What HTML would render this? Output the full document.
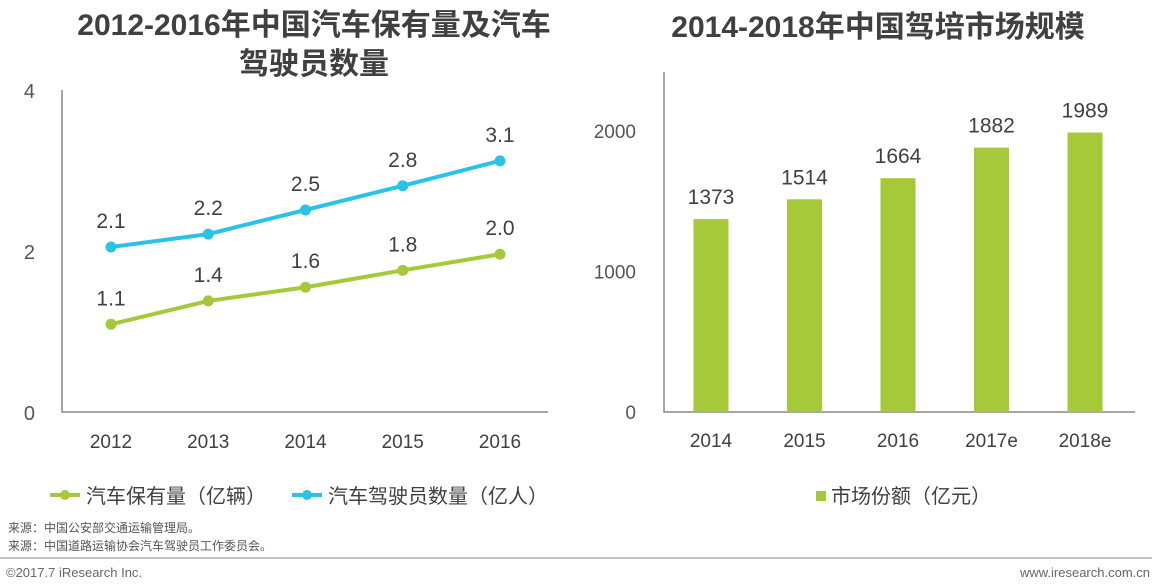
<!DOCTYPE html>
<html><head><meta charset="utf-8"><style>
body{margin:0;background:#fff;}
svg{display:block;font-family:"Liberation Sans","Noto Sans CJK SC",sans-serif;}
</style></head><body>
<svg width="1161" height="588" viewBox="0 0 1161 588" id="chart">
<text x="314" y="35" text-anchor="middle" font-size="30" font-weight="bold" fill="#404040">2012-2016年中国汽车保有量及汽车</text>
<text x="314" y="74" text-anchor="middle" font-size="30" font-weight="bold" fill="#404040">驾驶员数量</text>
<text x="878" y="37" text-anchor="middle" font-size="30" font-weight="bold" fill="#404040">2014-2018年中国驾培市场规模</text>
<g id="left"></g>
<g id="right"></g>
<g>
<line x1="50" y1="495" x2="80" y2="495" stroke="#a6c93a" stroke-width="4"/><circle cx="65" cy="495" r="5" fill="#a6c93a"/>
<text x="86" y="503" font-size="20" fill="#404040">汽车保有量（亿辆）</text>
<line x1="292" y1="495" x2="322" y2="495" stroke="#29c3ea" stroke-width="4"/><circle cx="307" cy="495" r="5" fill="#29c3ea"/>
<text x="328" y="503" font-size="20" fill="#404040">汽车驾驶员数量（亿人）</text>
</g>
<g>
<rect x="816" y="491" width="10" height="10" fill="#a6c93a"/>
<text x="831" y="503" font-size="20" fill="#404040">市场份额（亿元）</text>
</g>
<text x="8" y="532" font-size="12" fill="#555">来源：中国公安部交通运输管理局。</text>
<text x="8" y="550" font-size="12" fill="#555">来源：中国道路运输协会汽车驾驶员工作委员会。</text>
<line x1="0" y1="558" x2="1152" y2="558" stroke="#888" stroke-width="1"/>
<text x="6" y="577" font-size="13" fill="#666">©2017.7 iResearch Inc.</text>
<text x="1150" y="577" font-size="13" fill="#666" text-anchor="end">www.iresearch.com.cn</text>
</svg>
<script>
const lineYears=["2012","2013","2014","2015","2016"];
const ownership=[1.09,1.38,1.55,1.76,1.96];
const ownershipLabels=["1.1","1.4","1.6","1.8","2.0"];
const drivers=[2.05,2.21,2.51,2.81,3.12];
const driverLabels=["2.1","2.2","2.5","2.8","3.1"];
const lineTicks=[0,2,4];
const barYears=["2014","2015","2016","2017e","2018e"];
const marketSize=[1373,1514,1664,1882,1989];
const barTicks=[0,1000,2000];

const NS="http://www.w3.org/2000/svg";
function mk(p,t,a,txt){const e=document.createElementNS(NS,t);for(const k in a)e.setAttribute(k,a[k]);if(txt!==undefined)e.textContent=txt;p.appendChild(e);return e;}
const L=document.getElementById('left');
const lx=i=>111+i*97.25, ly=v=>412-v*80.5;
let e=mk(L,'path',{d:'M62 90V412H548',fill:'none',stroke:'#888','stroke-width':1.5});


lineTicks.forEach(t=>{const el=mk(L,'text',{x:35,y:ly(t)+8,'text-anchor':'end','font-size':20,fill:'#555'},String(t));

});
lineYears.forEach((y,i)=>{const el=mk(L,'text',{x:lx(i),y:448,'text-anchor':'middle','font-size':19,fill:'#404040'},y);

});
[[ownership,ownershipLabels,'#a6c93a','ownership'],[drivers,driverLabels,'#29c3ea','drivers']].forEach(([vals,labs,col,nm])=>{
 const pl=mk(L,'polyline',{points:vals.map((v,i)=>lx(i)+','+ly(v)).join(' '),fill:'none',stroke:col,'stroke-width':4});
 
 
 vals.forEach((v,i)=>{const c=mk(L,'circle',{cx:lx(i),cy:ly(v),r:5.5,fill:col});
 
 
 const t=mk(L,'text',{x:lx(i),y:ly(v)-19,'text-anchor':'middle','font-size':21,fill:'#404040'},labs[i]);
 
 });
});
const R=document.getElementById('right');
const bx=i=>711+i*93.5, by=v=>412-v*0.1405;
e=mk(R,'path',{d:'M664 72V412H1135',fill:'none',stroke:'#888','stroke-width':1.5});


barTicks.forEach(t=>{const el=mk(R,'text',{x:636,y:by(t)+7,'text-anchor':'end','font-size':19,fill:'#555'},String(t));

});
marketSize.forEach((v,i)=>{
 const r=mk(R,'rect',{x:bx(i)-17.5,y:by(v),width:35,height:412-by(v),fill:'#a6c93a'});
 
 
 const t=mk(R,'text',{x:bx(i),y:by(v)-15,'text-anchor':'middle','font-size':21,fill:'#404040'},String(v));
 
 
 const x=mk(R,'text',{x:bx(i),y:447,'text-anchor':'middle','font-size':19,fill:'#404040'},barYears[i]);
 
 
});
</script>
</body></html>
